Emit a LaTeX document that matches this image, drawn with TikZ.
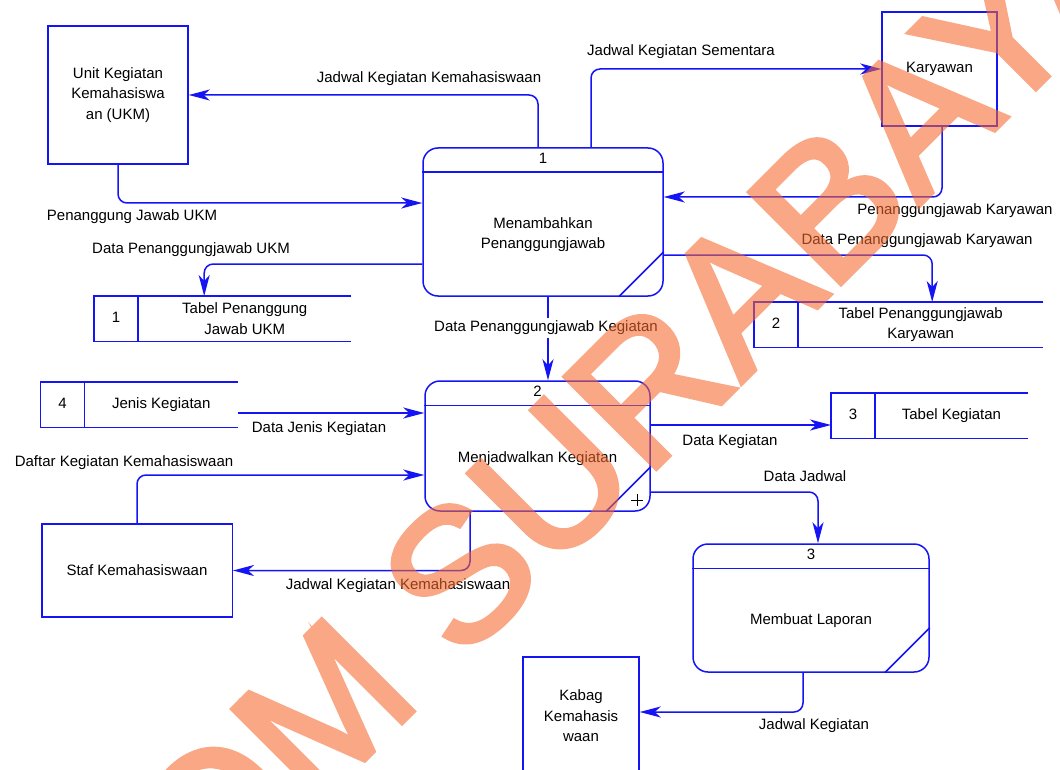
\documentclass[tikz,border=0pt]{standalone}
\usepackage{fontspec}
\setmainfont{Liberation Sans}
\newfontfamily\wmfamily[FakeBold=2.7]{Liberation Sans}
\usetikzlibrary{arrows.meta,calc}
\definecolor{dfdblue}{RGB}{20,20,245}
\definecolor{wmorange}{RGB}{245,105,45}
\newcommand{\dfdtext}{\fontsize{15pt}{20.5pt}\selectfont}
\newcommand{\wmtext}{\wmfamily\fontsize{188pt}{188pt}\selectfont}
\tikzset{
	entity/.style={draw=dfdblue,line width=1.5pt,inner sep=0pt,align=center,font=\dfdtext},
	proc/.style={draw=dfdblue,line width=1.5pt,rounded corners=15pt,inner sep=0pt},
	dfdline/.style={draw=dfdblue,line width=1.5pt},
	flow/.style={dfdline,rounded corners=9pt,-{Stealth[length=21pt,width=11pt,inset=6pt]}},
	lbl/.style={font=\dfdtext,inner sep=0pt,text height=10.5pt,text depth=3pt},
	txt/.style={font=\dfdtext,inner sep=0pt,align=center},
}

\begin{document}
\begin{tikzpicture}[x=1pt,y=-1pt]
	\useasboundingbox[fill=white] (0,0) rectangle (1060,770);
	% terminators
	\node[entity,minimum width=140pt,minimum height=138pt] (ukm) at (118,95) {Unit Kegiatan\\Kemahasiswa\\an (UKM)};
	\node[entity,minimum width=115pt,minimum height=114pt] (kar) at (939.5,69) {Karyawan};
	\node[entity,minimum width=190.5pt,minimum height=93pt] (staf) at (137,570.5) {Staf Kemahasiswaan};
	\node[entity,minimum width=116pt,minimum height=118pt] (kab) at (581,716) {Kabag\\Kemahasis\\waan};
	% processes
	\foreach \n/\x/\y/\w/\h/\t in {1/543/222/240/148/{Menambahkan\\Penanggungjawab},
			2/537.5/446/225/130/{Menjadwalkan Kegiatan},3/811/608/236/128/{Membuat Laporan}}{
		\node[proc,minimum width=\w pt,minimum height=\h pt] (p\n) at (\x,\y) {};
		\draw[dfdline] ([yshift=-25pt]p\n.north west) -- ([yshift=-25pt]p\n.north east);
		\draw[dfdline] ([xshift=-45pt]p\n.south east) -- ([yshift=45pt]p\n.south east);
		\node[lbl] at ([yshift=-12.5pt]p\n.north) {\n};
		\node[txt] at ($(p\n.center)+(0,12.5)$) {\t};
	}
	\draw[black,line width=0.8pt] (631,500) -- (643,500) (637,494) -- (637,506);
	% data stores
	\foreach \n/\x/\y/\w/\t in {1/94/296/257/{Tabel Penanggung\\Jawab UKM},
			2/754/302/289/{Tabel Penanggungjawab\\Karyawan},
			3/831/393/196.5/{Tabel Kegiatan},4/40.5/382/197/{Jenis Kegiatan}}{
		\node[minimum width=\w pt,minimum height=45pt,inner sep=0pt,anchor=north west] (s\n) at (\x,\y) {};
		\draw[dfdline] (s\n.north east) -- (s\n.north west) -- (s\n.south west) -- (s\n.south east);
		\draw[dfdline] ([xshift=44pt]s\n.north west) -- ([xshift=44pt]s\n.south west);
		\node[lbl] at ([xshift=22pt]s\n.west) {\n};
		\node[txt] at ($([xshift=44pt]s\n.west)!.5!(s\n.east)$) {\t};
	}
	% flows
	\draw[flow] ([xshift=-5pt]p1.north) |- (ukm.east);
	\draw[flow] ([xshift=48pt]p1.north) |- (kar.west);
	\draw[flow] ([xshift=2.5pt]kar.south) |- ([yshift=25pt]p1.east);
	\draw[flow] (ukm.south) |- ([yshift=19pt]p1.west);
	\draw[flow] ([yshift=-42pt]p1.west) -| ([xshift=-18.5pt]s1.north);
	\draw[flow] ([yshift=-33pt]p1.east) -| ([xshift=33.5pt]s2.north);
	\draw[flow] ([xshift=5pt]p1.south) -- ([xshift=5pt]p1.south |- p2.north);
	\draw[flow] ([yshift=33pt]p2.west -| s4.east) -- ([yshift=33pt]p2.west);
	\draw[flow] (staf.north) |- ([yshift=-29pt]p2.west);
	\draw[flow] ([xshift=-67.5pt]p2.south) |- (staf.east);
	\draw[flow] ([yshift=21pt]p2.east) -- ([yshift=21pt]p2.east -| s3.west);
	\draw[flow] ([yshift=-46pt]p2.east) -| ([xshift=7pt]p3.north);
	\draw[flow] ([xshift=-8pt]p3.south) |- ([yshift=4pt]kab.east);
	% flow labels
	\node[lbl] (l1) at (429,79) {Jadwal Kegiatan Kemahasiswaan};
	\node[lbl] (l2) at (681,52) {Jadwal Kegiatan Sementara};
	\node[lbl] (l3) at (955,211) {Penanggungjawab Karyawan};
	\node[lbl] (l4) at (132,217) {Penanggung Jawab UKM};
	\node[lbl] (l5) at (191,250) {Data Penanggungjawab UKM};
	\node[lbl] (l6) at (917,241) {Data Penanggungjawab Karyawan};
	\node[lbl,fill=white,inner ysep=3pt] (l7) at (546,328) {Data Penanggungjawab Kegiatan};
	\node[lbl] (l8) at (319,429) {Data Jenis Kegiatan};
	\node[lbl] (l9) at (124,463) {Daftar Kegiatan Kemahasiswaan};
	\node[lbl] (l10) at (398,586) {Jadwal Kegiatan Kemahasiswaan};
	\node[lbl] (l11) at (730,442) {Data Kegiatan};
	\node[lbl] (l12) at (805,478) {Data Jadwal};
	\node[lbl] (l13) at (814,726) {Jadwal Kegiatan};
	% watermark
	\begin{scope}[transparency group,opacity=0.58]
		\node[rotate=45,inner sep=0pt,text=wmorange,font=\wmtext] (wm) at (494,539) {STIKOM SURABAYA};
	\end{scope}
\end{tikzpicture}
\end{document}
